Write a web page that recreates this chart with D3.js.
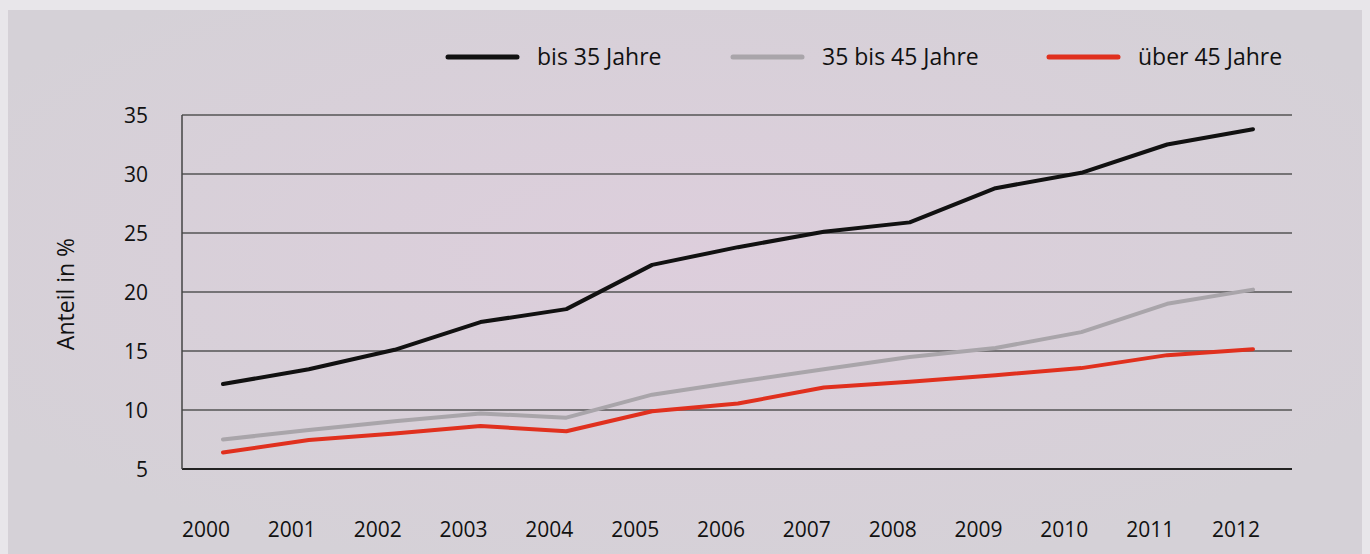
<!DOCTYPE html>
<meta charset="utf-8">
<script src="https://d3js.org/d3.v7.min.js"></script>
<style>
  body { margin: 0; background: #e8e6ea; }
  text { font-family: "Open Sans", sans-serif; fill: #111; }
</style>
<div id="chart"></div>
<script>

// data
var years = ["2000", "2001", "2002", "2003", "2004", "2005", "2006", "2007", "2008", "2009", "2010", "2011", "2012"];
var bis35 = [12.2, 13.45, 15.1, 17.45, 18.55, 22.3, 23.8, 25.1, 25.9, 28.8, 30.1, 32.5, 33.8];
var bis45 = [7.5, 8.3, 9.05, 9.7, 9.35, 11.3, 12.4, 13.45, 14.5, 15.25, 16.6, 19.0, 20.2];
var ueber45 = [6.4, 7.45, 8.0, 8.65, 8.2, 9.9, 10.55, 11.9, 12.4, 12.95, 13.55, 14.65, 15.15];
var yTicks = [5, 10, 15, 20, 25, 30, 35];
var seriesNames = ["bis 35 Jahre", "35 bis 45 Jahre", "über 45 Jahre"];
var seriesColors = ["#111111", "#a9a5aa", "#e0301e"];

var W = 1370, H = 554;
var margin = {top: 115, right: 77, bottom: 85, left: 182};
var width = W - margin.left - margin.right,
    height = H - margin.top - margin.bottom;

var svg = d3.select("#chart").append("svg")
    .attr("width", W)
    .attr("height", H);

// panel background
var defs = svg.append("defs");
var grad = defs.append("radialGradient").attr("id", "bg")
    .attr("cx", "50%").attr("cy", "45%").attr("r", "60%");
grad.append("stop").attr("offset", "0%").attr("stop-color", "#ddcedc");
grad.append("stop").attr("offset", "100%").attr("stop-color", "#d5d1d7");
svg.append("rect")
    .attr("x", 8).attr("y", 10)
    .attr("width", W - 16).attr("height", H - 10)
    .attr("fill", "url(#bg)");

var g = svg.append("g")
    .attr("transform", "translate(" + margin.left + "," + margin.top + ")");

// scales
var x = d3.scalePoint()
    .domain(years)
    .range([41, 1071]);

var y = d3.scaleLinear()
    .domain([5, 35])
    .range([height, 0]);

// grid lines
g.append("g")
  .selectAll("line")
  .data(yTicks)
  .enter()
  .append("line")
    .attr("x1", 0)
    .attr("x2", 1110)
    .attr("y1", function (d) { return y(d); })
    .attr("y2", function (d) { return y(d); })
    .attr("stroke", function (d) { return d == 5 ? "#222" : "#555"; })
    .attr("stroke-width", function (d) { return d == 5 ? 2 : 1.4; });

// left axis line
g.append("line")
    .attr("x1", 0).attr("x2", 0)
    .attr("y1", 0).attr("y2", height)
    .attr("stroke", "#444")
    .attr("stroke-width", 1.5);

// y tick labels
g.append("g")
  .selectAll("text")
  .data(yTicks)
  .enter()
  .append("text")
    .attr("x", -34)
    .attr("y", function (d) { return y(d); })
    .attr("dy", "0.36em")
    .attr("text-anchor", "end")
    .style("font-size", "21px")
    .text(function (d) { return d; });

// x tick labels
g.append("g")
  .selectAll("text")
  .data(years)
  .enter()
  .append("text")
    .attr("x", function (d) { return x(d) - 17; })
    .attr("y", height + 68)
    .attr("text-anchor", "middle")
    .style("font-size", "21px")
    .text(function (d) { return d; });

// y axis title
svg.append("text")
    .attr("transform", "translate(74," + 294 + ") rotate(-90)")
    .attr("text-anchor", "middle")
    .style("font-size", "23px")
    .text("Anteil in %");

// lines
var line = d3.line()
    .x(function (d, i) { return x(years[i]); })
    .y(function (d) { return y(d); });

var allSeries = [bis35, bis45, ueber45];
// draw grey, then red, then black on top
[1, 2, 0].forEach(function (k) {
  g.append("path")
    .datum(allSeries[k])
    .attr("d", line)
    .attr("fill", "none")
    .attr("stroke", seriesColors[k])
    .attr("stroke-width", 4)
    .attr("stroke-linejoin", "round")
    .attr("stroke-linecap", "round");
});

// legend
var legendX = [448, 733, 1049];
var legend = svg.append("g");
seriesNames.forEach(function (name, i) {
  legend.append("line")
    .attr("x1", legendX[i]).attr("x2", legendX[i] + 69)
    .attr("y1", 57).attr("y2", 57)
    .attr("stroke", seriesColors[i])
    .attr("stroke-width", 5)
    .attr("stroke-linecap", "round");
  legend.append("text")
    .attr("x", legendX[i] + 89)
    .attr("y", 57)
    .attr("dy", "0.35em")
    .style("font-size", "23px")
    .text(name);
});

</script>
